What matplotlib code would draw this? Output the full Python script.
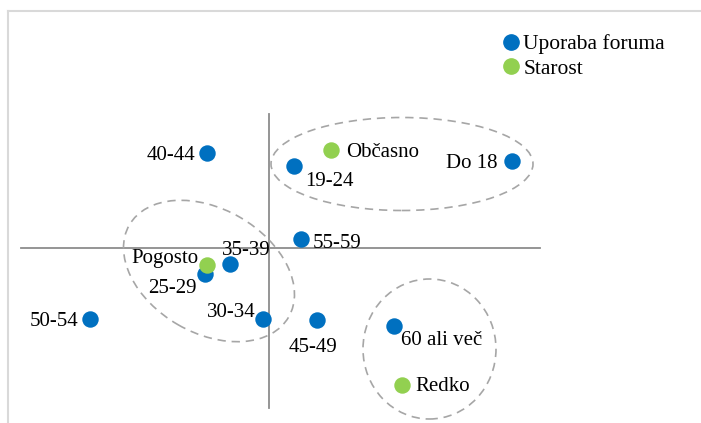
import numpy as np
import matplotlib
matplotlib.use("Agg")
import matplotlib.pyplot as plt
from matplotlib.patches import Ellipse
from matplotlib.lines import Line2D

plt.rcParams['font.family'] = ['Liberation Serif', 'DejaVu Serif']

# map coordinates (dimension 1, dimension 2)
age_labels = ["40-44", "19-24", "Do 18", "55-59", "35-39", "25-29",
              "50-54", "30-34", "45-49", "60 ali več"]
age_x = [-0.62, 0.25, 2.43, 0.32, -0.39, -0.64, -1.79, -0.06, 0.48, 1.25]
age_y = [0.95, 0.82, 0.87, 0.09, -0.16, -0.26, -0.71, -0.71, -0.72, -0.78]

use_labels = ["Občasno", "Pogosto", "Redko"]
use_x = [0.62, -0.62, 1.33]
use_y = [0.98, -0.17, -1.37]

legend_labels = ["Uporaba foruma", "Starost"]

# label offsets in pixels (dx, dy, ha)
age_offsets = [(-12, 0, "right"), (11, -13, "left"), (-15, 0, "right"),
               (11, -2, "left"), (16, 16, "center"), (-9, -12, "right"),
               (-12, 0, "right"), (-8, 9, "right"), (-4, -25, "center"),
               (7, -12, "left")]
use_offsets = [(15, 0, "left"), (-9, 9, "right"), (13, 1, "left")]

blue = "#0070C0"
green = "#92D050"

fig = plt.figure(figsize=(7.01, 4.23), dpi=100)
ax = fig.add_axes([0, 0, 1, 1])
ax.set_xlim(-2.693, 4.317)
ax.set_ylim(-1.747, 2.483)
ax.axis("off")

# frame (cropped at right and bottom)
fig.add_artist(Line2D([8 / 701, 8 / 701], [-0.01, 1 - 11 / 423], color="#D9D9D9", lw=1.5))
fig.add_artist(Line2D([8 / 701, 1.01], [1 - 11 / 423, 1 - 11 / 423], color="#D9D9D9", lw=1.5))

# axes cross
ax.plot([-2.48, 2.71], [0, 0], color="#8C8C8C", lw=1.3, zorder=1)
ax.plot([0, 0], [-1.60, 1.34], color="#8C8C8C", lw=1.3, zorder=1)

# grouping ellipses
ell_kw = dict(fill=False, ec="#A6A6A6", lw=1.2, ls=(0, (5, 3.5)), zorder=1)
ax.add_patch(Ellipse((1.327, 0.843), 2.62, 0.93, angle=0, **ell_kw))
ax.add_patch(Ellipse((-0.603, -0.227), 1.84, 1.24, angle=-30, **ell_kw))
ax.add_patch(Ellipse((1.602, -1.007), 1.33, 1.40, angle=0, **ell_kw))

ax.scatter(age_x, age_y, s=140, color=blue, zorder=3, linewidths=0)
ax.scatter(use_x, use_y, s=140, color=green, zorder=4, linewidths=0)

for lab, x, y, (dx, dy, ha) in zip(age_labels, age_x, age_y, age_offsets):
    ax.annotate(lab, (x, y), xytext=(dx, dy), textcoords="offset pixels",
                ha=ha, va="center_baseline", fontsize=15, zorder=5)
for lab, x, y, (dx, dy, ha) in zip(use_labels, use_x, use_y, use_offsets):
    ax.annotate(lab, (x, y), xytext=(dx, dy), textcoords="offset pixels",
                ha=ha, va="center_baseline", fontsize=15, zorder=5)

handles = [Line2D([], [], marker="o", ls="", color=blue, markersize=11),
           Line2D([], [], marker="o", ls="", color=green, markersize=11)]
ax.legend(handles, legend_labels, loc="upper left",
          bbox_to_anchor=(505 / 701, 1 - 34 / 423), bbox_transform=fig.transFigure,
          frameon=False, fontsize=15.5, handlelength=0.6, handletextpad=0.25,
          labelspacing=0.22, borderpad=0, borderaxespad=0)

fig.savefig("out.png", dpi=100)
